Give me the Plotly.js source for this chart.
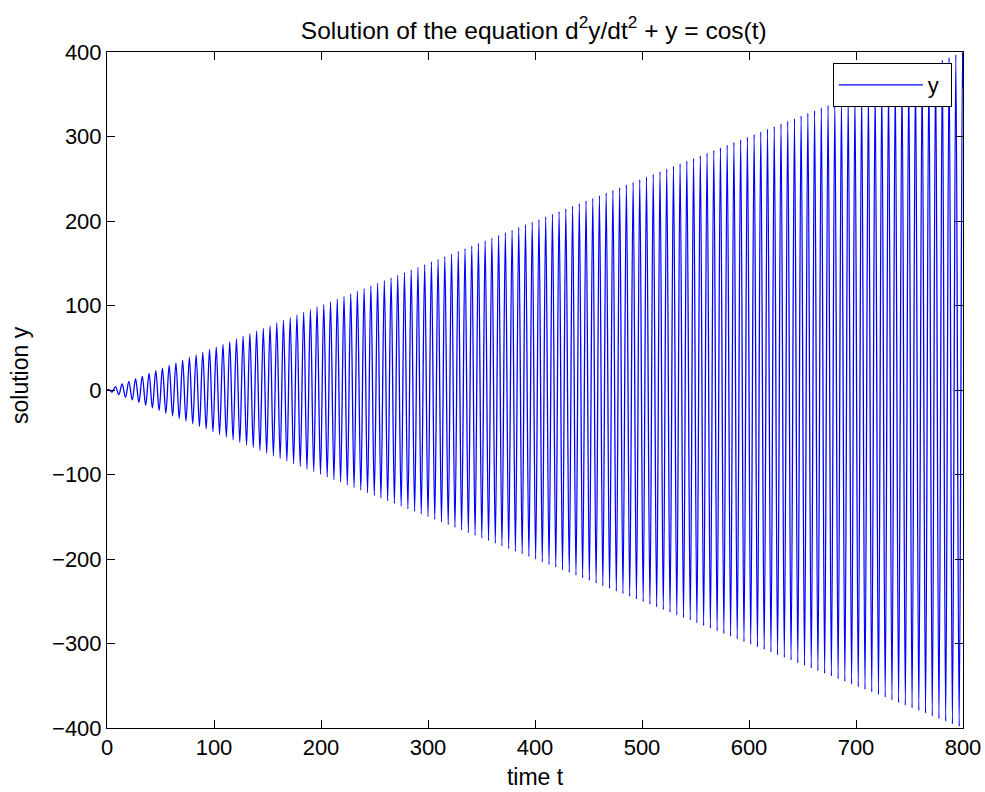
<!DOCTYPE html>
<html>
<head>
<meta charset="utf-8">
<script src="https://cdn.plot.ly/plotly-3.0.1.min.js"></script>
<style>html,body{margin:0;padding:0;background:#fff;}#chart{width:985px;height:792px;}</style>
</head>
<body>
<div id="chart"></div>
<script>
// Extremes of the oscillation (time t, solution y), plus start and end points
const tValues = [0,
1.6,4.7,7.9,11.0,14.1,17.3,20.4,23.6,26.7,29.8,33.0,36.1,39.3,42.4,45.6,48.7,51.8,55.0,58.1,61.3,
64.4,67.5,70.7,73.8,77.0,80.1,83.3,86.4,89.5,92.7,95.8,99.0,102.1,105.2,108.4,111.5,114.7,117.8,121.0,124.1,
127.2,130.4,133.5,136.7,139.8,142.9,146.1,149.2,152.4,155.5,158.7,161.8,164.9,168.1,171.2,174.4,177.5,180.6,183.8,186.9,
190.1,193.2,196.3,199.5,202.6,205.8,208.9,212.1,215.2,218.3,221.5,224.6,227.8,230.9,234.0,237.2,240.3,243.5,246.6,249.8,
252.9,256.0,259.2,262.3,265.5,268.6,271.7,274.9,278.0,281.2,284.3,287.5,290.6,293.7,296.9,300.0,303.2,306.3,309.4,312.6,
315.7,318.9,322.0,325.2,328.3,331.4,334.6,337.7,340.9,344.0,347.1,350.3,353.4,356.6,359.7,362.9,366.0,369.1,372.3,375.4,
378.6,381.7,384.8,388.0,391.1,394.3,397.4,400.6,403.7,406.8,410.0,413.1,416.3,419.4,422.5,425.7,428.8,432.0,435.1,438.3,
441.4,444.5,447.7,450.8,454.0,457.1,460.2,463.4,466.5,469.7,472.8,476.0,479.1,482.2,485.4,488.5,491.7,494.8,497.9,501.1,
504.2,507.4,510.5,513.7,516.8,519.9,523.1,526.2,529.4,532.5,535.6,538.8,541.9,545.1,548.2,551.3,554.5,557.6,560.8,563.9,
567.1,570.2,573.3,576.5,579.6,582.8,585.9,589.0,592.2,595.3,598.5,601.6,604.8,607.9,611.0,614.2,617.3,620.5,623.6,626.7,
629.9,633.0,636.2,639.3,642.5,645.6,648.7,651.9,655.0,658.2,661.3,664.4,667.6,670.7,673.9,677.0,680.2,683.3,686.4,689.6,
692.7,695.9,699.0,702.1,705.3,708.4,711.6,714.7,717.9,721.0,724.1,727.3,730.4,733.6,736.7,739.8,743.0,746.1,749.3,752.4,
755.6,758.7,761.8,765.0,768.1,771.3,774.4,777.5,780.7,783.8,787.0,790.1,793.3,796.4,799.5,
800];
const yValues = [0,
0.8,-2.4,3.9,-5.5,7.1,-8.6,10.2,-11.8,13.4,-14.9,16.5,-18.1,19.6,-21.2,22.8,-24.3,25.9,-27.5,29.1,-30.6,
32.2,-33.8,35.3,-36.9,38.5,-40.1,41.6,-43.2,44.8,-46.3,47.9,-49.5,51.1,-52.6,54.2,-55.8,57.3,-58.9,60.5,-62.0,
63.6,-65.2,66.8,-68.3,69.9,-71.5,73.0,-74.6,76.2,-77.8,79.3,-80.9,82.5,-84.0,85.6,-87.2,88.8,-90.3,91.9,-93.5,
95.0,-96.6,98.2,-99.7,101.3,-102.9,104.5,-106.0,107.6,-109.2,110.7,-112.3,113.9,-115.5,117.0,-118.6,120.2,-121.7,123.3,-124.9,
126.4,-128.0,129.6,-131.2,132.7,-134.3,135.9,-137.4,139.0,-140.6,142.2,-143.7,145.3,-146.9,148.4,-150.0,151.6,-153.2,154.7,-156.3,
157.9,-159.4,161.0,-162.6,164.1,-165.7,167.3,-168.9,170.4,-172.0,173.6,-175.1,176.7,-178.3,179.9,-181.4,183.0,-184.6,186.1,-187.7,
189.3,-190.9,192.4,-194.0,195.6,-197.1,198.7,-200.3,201.8,-203.4,205.0,-206.6,208.1,-209.7,211.3,-212.8,214.4,-216.0,217.6,-219.1,
220.7,-222.3,223.8,-225.4,227.0,-228.6,230.1,-231.7,233.3,-234.8,236.4,-238.0,239.5,-241.1,242.7,-244.3,245.8,-247.4,249.0,-250.5,
252.1,-253.7,255.3,-256.8,258.4,-260.0,261.5,-263.1,264.7,-266.3,267.8,-269.4,271.0,-272.5,274.1,-275.7,277.2,-278.8,280.4,-282.0,
283.5,-285.1,286.7,-288.2,289.8,-291.4,293.0,-294.5,296.1,-297.7,299.2,-300.8,302.4,-304.0,305.5,-307.1,308.7,-310.2,311.8,-313.4,
314.9,-316.5,318.1,-319.7,321.2,-322.8,324.4,-325.9,327.5,-329.1,330.7,-332.2,333.8,-335.4,336.9,-338.5,340.1,-341.6,343.2,-344.8,
346.4,-347.9,349.5,-351.1,352.6,-354.2,355.8,-357.4,358.9,-360.5,362.1,-363.6,365.2,-366.8,368.4,-369.9,371.5,-373.1,374.6,-376.2,
377.8,-379.3,380.9,-382.5,384.1,-385.6,387.2,-388.8,390.3,-391.9,393.5,-395.1,396.6,-398.2,399.8,
357.6];
const seriesName = "y\u00a0";
const xTicks = [0,100,200,300,400,500,600,700,800];
const yTicks = [-400,-300,-200,-100,0,100,200,300,400];
const yTickLabels = ["\u2212400","\u2212300","\u2212200","\u2212100","0","100","200","300","400"];

const FONT = '"Liberation Sans", Arial, Helvetica, sans-serif';

const trace = {
  x: tValues, y: yValues, type: 'scatter', mode: 'lines', name: seriesName,
  line: {color: '#0000ff', width: 1.3, shape: 'spline', smoothing: 1},
  showlegend: true
};

const axisCommon = {
  showline: true, linecolor: '#000', linewidth: 1, mirror: 'allticks',
  ticks: 'inside', ticklen: 8, tickwidth: 1, tickcolor: '#000',
  showgrid: false, zeroline: false,
  tickfont: {family: FONT, size: 22, color: '#000'}
};

const layout = {
  width: 985, height: 792,
  margin: {l: 107, r: 22, t: 52, b: 64, pad: 0},
  paper_bgcolor: '#fff', plot_bgcolor: '#fff',
  font: {family: FONT, color: '#000'},
  title: {text: 'Solution of the equation d<sup>2</sup>y/dt<sup>2</sup> + y = cos(t)',
          font: {family: FONT, size: 24.5, color: '#000'},
          x: 0.5419, xanchor: 'center', y: 0.962, yanchor: 'middle'},
  xaxis: Object.assign({}, axisCommon, {
    range: [0, 800], tickvals: xTicks, ticktext: xTicks.map(String),
    title: {text: 'time t', font: {family: FONT, size: 23, color: '#000'}, standoff: 9}
  }),
  yaxis: Object.assign({}, axisCommon, {
    range: [-400, 400], tickvals: yTicks, ticktext: yTickLabels,
    title: {text: ''}
  }),
  annotations: [{
    text: 'solution y', xref: 'paper', yref: 'paper', x: 0, y: 0.5,
    xanchor: 'center', yanchor: 'middle', xshift: -87, yshift: 15,
    textangle: -90, showarrow: false,
    font: {family: FONT, size: 23, color: '#000'}
  }],
  showlegend: true,
  legend: {
    x: 0.987, y: 0.9837, xanchor: 'right', yanchor: 'top',
    bgcolor: '#fff', bordercolor: '#000', borderwidth: 1,
    font: {family: FONT, size: 22, color: '#000'},
    itemwidth: 84
  }
};

Plotly.newPlot('chart', [trace], layout, {displayModeBar: false, staticPlot: true});
</script>
</body>
</html>
